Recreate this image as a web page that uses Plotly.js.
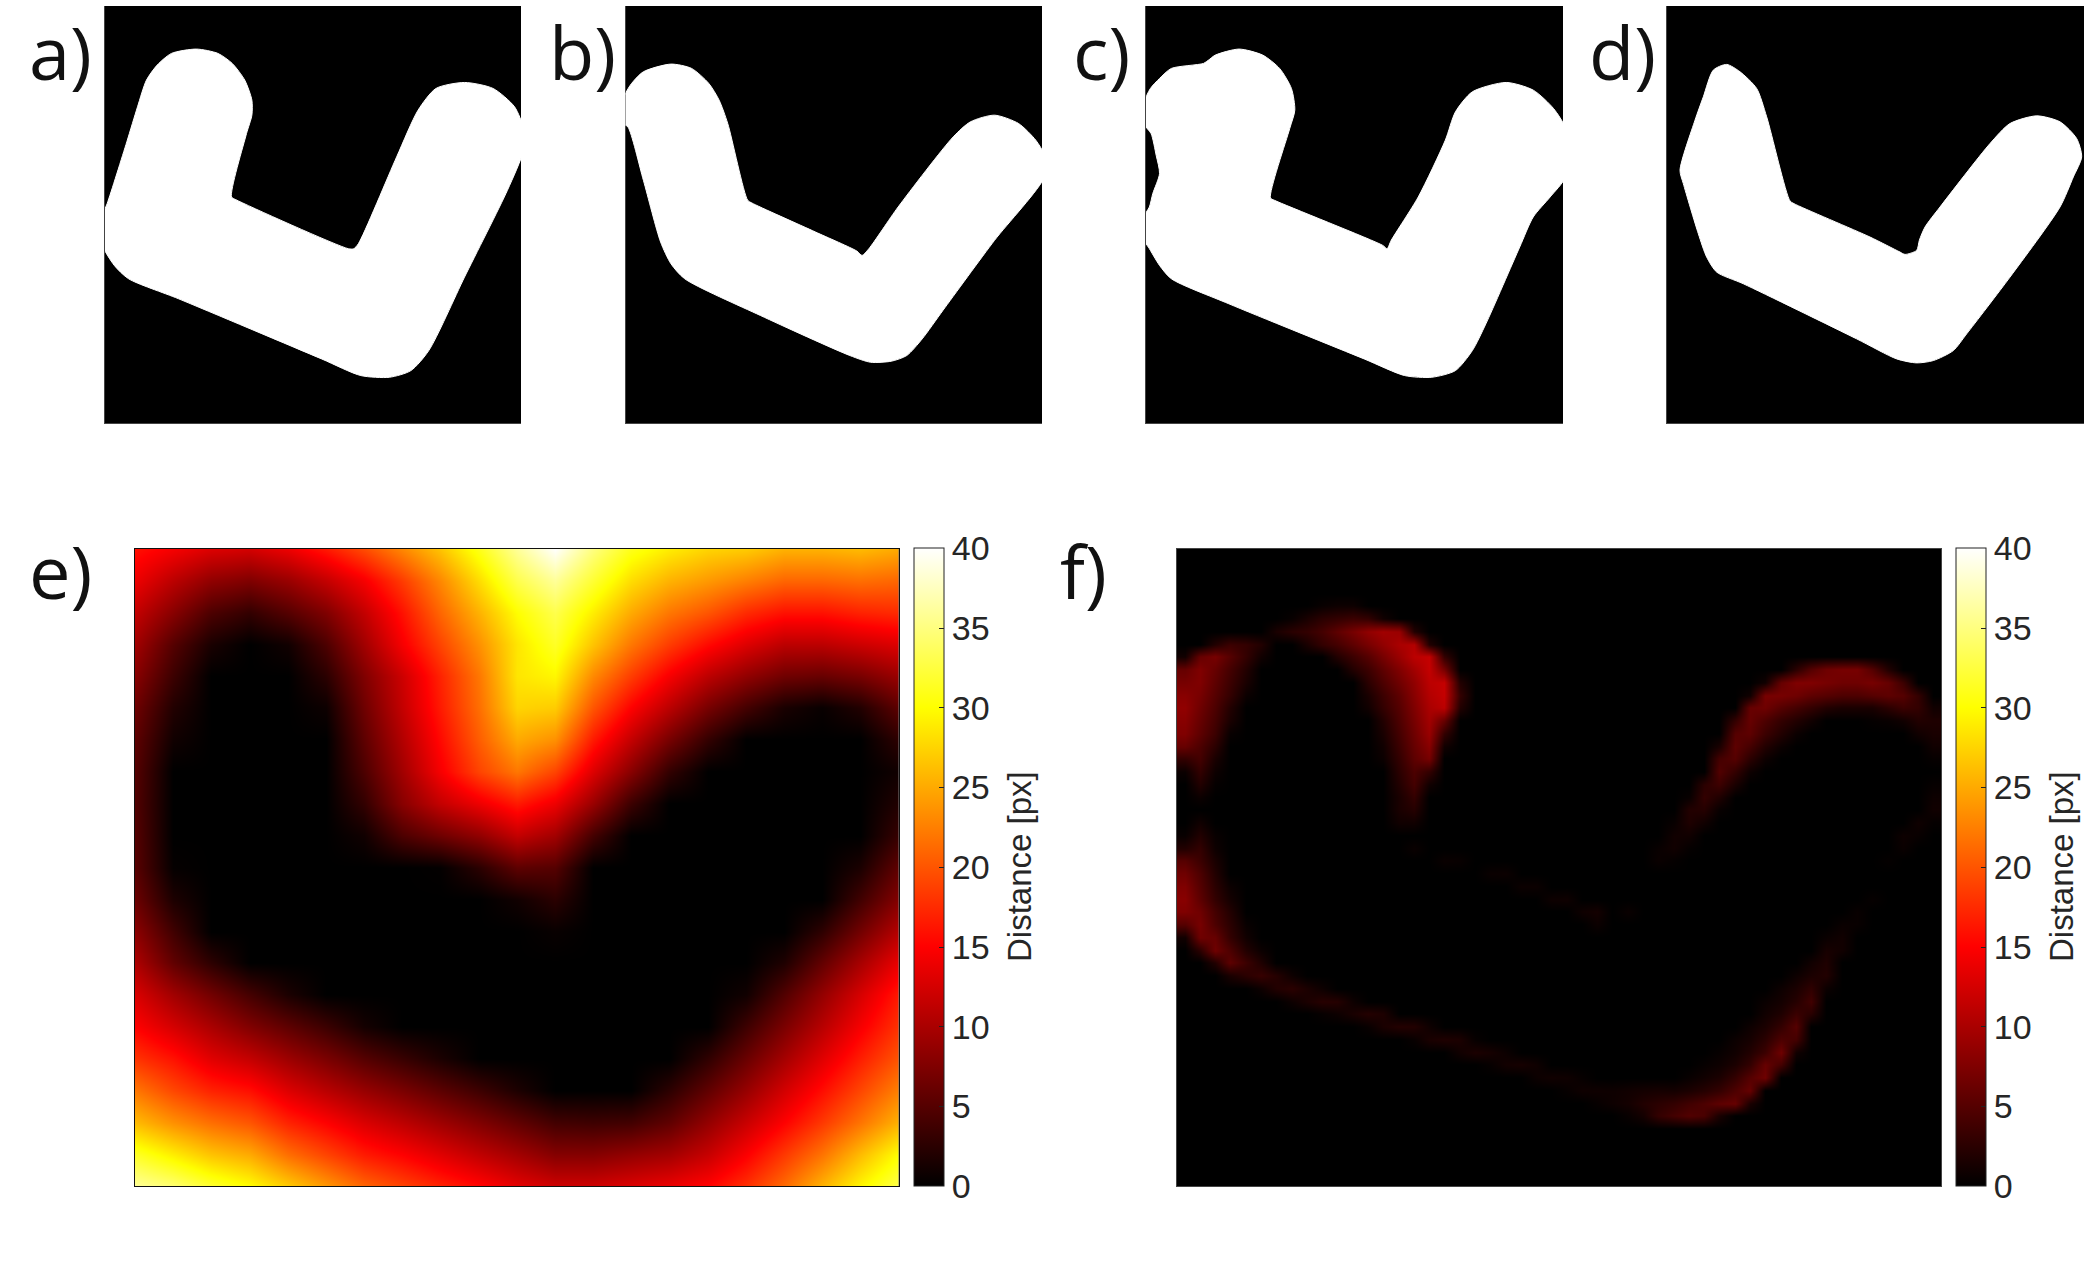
<!DOCTYPE html>
<html><head><meta charset="utf-8">
<script src="https://cdn.plot.ly/plotly-3.0.1.min.js"></script>
<style>html,body{margin:0;padding:0;background:#fff}</style></head>
<body><div id="chart" style="width:2084px;height:1272px"></div>
<script>
// Mask outlines, in each panel's own sample coordinates
const maskAX=[300,355,385,410,440,480,550,610,650,685,705,705,690,648,660,975,990,1003,1110,1170,1220,1300,1380,1440,1465,1465,1420,1300,1200,1150,1090,1010,900,500,360,320,285,285];
const maskAY=[610,425,320,240,195,160,147,160,190,240,300,345,400,590,598,745,745,730,470,330,265,247,265,320,385,450,570,830,1050,1110,1130,1125,1075,895,835,795,730,650];
const maskARange=[294,1458,1267,18];
const maskBX=[240,262,300,380,440,490,520,545,603,615,800,920,935,955,1040,1200,1250,1320,1390,1440,1465,1465,1320,1170,1110,1065,1020,960,900,640,420,380,350,300,255,240];
const maskBY=[300,255,215,192,205,250,300,370,600,608,695,752,765,745,620,410,365,345,370,420,465,530,720,930,1015,1065,1082,1085,1065,945,835,790,725,540,380,370];
const maskBRange=[248,1458,1267,18];
const maskCX=[268,295,330,425,440,460,530,600,650,685,695,680,623,635,955,968,980,1060,1140,1170,1220,1320,1400,1460,1495,1495,1450,1400,1360,1260,1220,1170,1100,1020,900,500,330,295,262,248,248,265,275,295,285,270,248,248];
const maskCY=[265,235,205,190,180,165,147,165,205,265,330,385,593,600,735,745,720,590,420,335,275,247,270,325,385,530,590,650,740,970,1050,1110,1130,1125,1075,910,835,795,740,720,650,620,580,520,465,400,370,310];
const maskCRange=[255,1488,1267,18];
const maskDX=[330,375,400,430,470,510,560,590,660,672,900,990,1005,1040,1048,1065,1110,1260,1320,1400,1470,1520,1535,1510,1470,1320,1190,1150,1090,1040,980,860,520,440,410,385,340];
const maskDY=[510,360,290,210,193,215,265,350,602,610,710,755,762,750,720,680,620,430,370,347,365,415,470,530,620,830,1000,1050,1080,1087,1075,1015,850,815,770,700,550];
const maskDRange=[291,1542,1267,18];

// Panel e: distance [px] read on a 5% grid (rows top to bottom)
const gridE=[0,5,10,15,20,25,30,35,40,45,50,55,60,65,70,75,80,85,90,95,100];
const distE=[
[16,14.5,13,12.5,14,16.5,19.5,23,26.5,31,36,40,35,31,29,27.5,27,25.5,25.5,26,25],
[14,11,8.5,7.5,9,11.5,14.5,18.5,23,28,33,36,32,28,25.5,24,22.5,21,21,21.5,21],
[11.5,8,4.5,3,5,7.5,11.5,16,21,25.5,30,33,29,25,22,20,17.5,16,16,17,17.5],
[9.5,5,1.5,0,1,4.5,9.5,14.5,19,23.5,28.5,31.5,26.5,22,18.5,15.5,13,11,11,12,13],
[8,3.5,0,0,0,2.5,7.5,12,17,22,28.5,29.5,23,18.5,14.5,11,8.5,6.5,6,7,9],
[6.5,2,0,0,0,0.8,6.5,11.5,16.5,21.5,27.5,27,20,15,11,7,4,1.5,0.5,2,5.5],
[5.5,1,0,0,0,0,5.5,10.5,15.5,20.5,25,23.5,16.5,11.5,7,3,0,0,0,0,2.7],
[5,0,0,0,0,0,4.5,9.5,14.5,19,22,19,13,8,3,0,0,0,0,0,1],
[4.8,0,0,0,0,0,3,8,11.5,14,16.5,14,9,3.5,0,0,0,0,0,0,2],
[5,0,0,0,0,0,1,4.5,6.5,8.5,11.5,9.5,4,0,0,0,0,0,0,0,3.3],
[5.2,0.3,0,0,0,0,0,0,0.2,2.5,5.5,5,0,0,0,0,0,0,0,1.6,5.7],
[6.3,1.7,0,0,0,0,0,0,0,0,1,2.5,0,0,0,0,0,0,0,3.8,7.8],
[8.2,3.8,0,0,0,0,0,0,0,0,0,0.5,0,0,0,0,0,0,2.7,6.7,10.7],
[10.2,5.7,2.6,0,0,0,0,0,0,0,0,0,0,0,0,0,0,1.8,5.8,9.8,13.8],
[12.8,9.5,6.7,4,1.6,0,0,0,0,0,0,0,0,0,0,0,1,4.8,8.7,12.6,16.5],
[15,12.5,10,7.5,5.5,3.5,1.2,0,0,0,0,0,0,0,0,0,3.6,7.2,10.8,14.5,18],
[18,16,13.2,11.5,9.2,7.2,5,3.3,1.6,0,0,0,0,0,0,2.8,6.2,9.7,13.2,16.7,20],
[22,19.2,17,15.8,13,10.9,8.9,7.2,5.4,3.6,1.7,0,0,0,2.6,5.7,8.9,12.4,15.7,19.1,22.6],
[26,23.5,21.5,20,17,15,12.8,11.1,9.3,7.5,5.7,3.9,3.6,3.9,5.6,8.7,11.8,15,18.3,21.8,25.5],
[31.5,29,26.5,25,21.5,19,16.5,15,13.2,11.3,9.6,7.8,7.8,8.7,9.6,11.7,14.8,18.3,21.8,26,30],
[36,34.5,32,30,27,24,21,19,17.1,15.4,13.5,12.2,12.2,13,13.9,15.2,17.8,21.3,25.5,29.5,33]];

// Panel f: non-zero difference cells read on a 2% grid: y -> x,z,x,z,...
const diffF={
9:[19,0.5,21,0.8,23,0.8],
11:[15,0.5,17,1.5,19,2.5,21,3,23,3.5,25,3,27,1],
13:[13,1.5,15,2.5,17,3,19,4,21,5.5,23,7,25,8.5,27,9.5,29,9,31,2],
15:[5,2,7,3.5,9,3,11,2,17,1.5,19,3,21,4,23,5.5,25,7,27,8.5,29,10,31,10.5,33,2],
17:[1,1,3,6,5,7,7,5,9,3,11,1,21,2,23,3.5,25,5,27,7,29,9,31,11,33,11.5,35,3],
19:[1,6,3,7.5,5,6,7,4,9,2,23,2,25,3.5,27,5.5,29,7.5,31,9.5,33,11.5,35,7,81,2.5,83,5,85,6.5,87,7,89,7,91,5,93,2],
21:[1,7,3,7.5,5,5.5,7,3.5,9,1.5,25,2.5,27,4.5,29,6.5,31,8.5,33,11,35,11.5,37,2,77,1,79,6,81,7.5,83,7.5,85,7,87,6.5,89,6.5,91,7,93,6,95,3.5],
23:[1,8,3,7,5,5,7,3,9,0.7,25,1.5,27,3.5,29,5.5,31,8,33,10.5,35,11.5,37,3,75,1,77,7,79,7,81,6.5,83,5.5,85,5,87,4.5,89,4.5,91,5,93,5.5,95,5,97,3],
25:[1,8.5,3,6.5,5,4.5,7,2,25,1,27,3,29,5,31,7.5,33,10,35,11,37,2,75,6,77,6.5,79,5,81,4,83,3,85,2,87,1.5,89,1.5,91,1.5,93,2.5,95,3.5,97,3,99,1],
27:[1,8,3,6,5,4,7,1.5,27,2,29,4.5,31,7,33,9.5,35,6,73,3,75,6,77,4.5,79,3,81,2,83,1,91,0.3,93,0.5,95,1,97,2,99,1.8],
29:[1,7.5,3,5.5,5,3.5,7,0.5,27,1.5,29,4,31,6.5,33,9,35,3,73,5,75,5.5,77,3.5,79,2,81,0.7,97,1,99,1.5],
31:[1,6,3,4.5,5,2.5,27,1,29,3.5,31,6,33,8,35,1,71,1.5,73,5.5,75,4,77,2,79,0.7,99,1],
33:[1,3,3,4,5,1.5,27,0.7,29,3,31,5.5,33,7,71,4,73,5,75,2.5,77,0.8,99,0.4],
35:[1,0.7,3,3,5,0.8,29,2.5,31,4.5,33,3,71,4.8,73,3,75,0.8],
37:[3,2,5,0.3,29,2,31,4,33,1,69,2.5,71,3.6,73,1.5,99,0.4],
39:[3,0.7,29,1.5,31,3,67,0.5,69,3,71,1.8,99,0.8],
41:[29,1.5,31,2.2,67,2,69,2.2,71,0.5,99,1],
43:[3,1,29,1,31,1,65,0.5,67,1.8,69,1,97,0.9,99,0.3],
45:[1,0.5,3,2,5,0.5,65,1,67,1,95,0.8,97,0.5],
47:[1,2,3,3,5,0.8,31,0.6,63,0.5,65,1,67,0.3,95,0.6],
49:[1,5,3,3.5,5,1.5,35,0.6,37,0.5,63,0.6,65,0.3,93,0.3],
51:[1,6.5,3,4.5,5,2,41,0.6,43,0.7],
53:[1,7.5,3,5,5,2.5,7,0.7,45,0.7,47,0.7],
55:[1,8,3,5.5,5,3,7,1.2,49,0.8,51,0.9,91,0.4],
57:[1,7.5,3,6.5,5,4,7,2,53,0.9,55,1.2,59,0.6,89,0.5],
59:[1,5,3,7,5,4.5,7,2.5,9,0.5,55,0.7,87,0.6,89,0.5],
61:[1,1,3,6.5,5,6,7,3,9,1,85,0.6,87,1],
63:[3,2.5,5,6.5,7,4.5,9,2,11,0.7,85,1.4,87,1],
65:[5,2,7,5.5,9,3.5,11,1.8,83,1,85,1.8],
67:[7,1.5,9,2.5,11,3.2,13,2.2,15,0.8,81,0.8,83,1.6,85,2],
69:[11,0.8,13,2,15,2.5,17,1.6,19,0.8,79,0.8,81,1.6,83,2.8,85,0.7],
71:[15,0.8,17,1.6,19,2.3,21,2.2,23,0.8,77,0.6,79,1.2,81,2.2,83,3.8],
73:[19,0.4,21,0.8,23,1.5,25,2.1,27,1.7,77,1,79,1.8,81,3.4,83,2.4],
75:[25,0.5,27,1.5,29,2.1,31,2,33,0.9,75,0.8,77,1.6,79,3,81,5],
77:[31,0.5,33,1.5,35,1.8,37,1.6,39,0.4,73,0.7,75,1.3,77,2.5,79,4.5,81,4],
79:[37,1,39,1.6,41,1.3,43,0.7,71,0.4,73,1,75,2,77,3.5,79,6.5,81,1],
81:[41,0.4,43,1.1,45,1.3,47,0.9,69,0.4,71,0.8,73,1.6,75,3,77,6,79,4],
83:[47,0.7,49,1,51,0.9,53,0.4,67,0.5,69,1,71,1.6,73,3,75,5,77,6.5],
85:[51,0.4,53,0.9,55,0.9,57,0.8,59,1,61,1.2,63,1.3,65,1.2,67,1.6,69,2.2,71,3,73,4.5,75,6],
87:[55,0.4,57,0.8,59,1.2,61,2,63,2.5,65,3,67,3.8,69,4.5,71,5.5,73,6,75,1.5],
89:[59,0.5,61,1.2,63,3,65,4,67,4.8,69,4.3,71,1.5]
};
const tickVals=[0,5,10,15,20,25,30,35,40];
const colorbarTitle='Distance [px]';
const panelLabels=['a)','b)','c)','d)','e)','f)'];

const W=2084,H=1272;
const hot=[[0,'#000000'],[0.375,'#ff0000'],[0.75,'#ffff00'],[1,'#ffffff']];
const fx=p=>p/W, fy=p=>1-p/H;
const boxes=[[105,521,6,423],[625.5,1042,6,423],[1146,1563,6,423],[1667,2084,6,423],[135,898.5,548.5,1186],[1177,1941,548.5,1186]];
const layout={width:W,height:H,margin:{l:0,r:0,t:0,b:0},paper_bgcolor:'#fff',plot_bgcolor:'#000',showlegend:false,annotations:[]};
const ranges=[maskARange,maskBRange,maskCRange,maskDRange,[0,100,100,0],[0,100,100,0]];
boxes.forEach((b,i)=>{
  const s=i?String(i+1):'';
  const r=ranges[i];
  const ax={showticklabels:false,ticks:'',showgrid:false,zeroline:false,showline:true,mirror:i>=4,linecolor:i==4?'#111':'#444',linewidth:1,layer:i<4?'below traces':'above traces'};
  layout['xaxis'+s]=Object.assign({domain:[fx(b[0]),fx(b[1])],range:[r[0],r[1]],anchor:'y'+s},ax);
  layout['yaxis'+s]=Object.assign({domain:[fy(b[3]),fy(b[2])],range:[r[2],r[3]],anchor:'x'+s},ax);
});
const labelPos=[[27,51],[547,51],[1071,51],[1587,51],[27,570],[1058,570]];
panelLabels.forEach((t,i)=>layout.annotations.push({text:t,xref:'paper',yref:'paper',x:fx(labelPos[i][0]),y:fy(labelPos[i][1]),xanchor:'left',yanchor:'middle',showarrow:false,font:{family:'Open Sans',size:74,color:'#111'}}));
[1019,2061].forEach(px=>layout.annotations.push({text:colorbarTitle,xref:'paper',yref:'paper',x:fx(px),y:fy(867),xanchor:'center',yanchor:'middle',textangle:-90,showarrow:false,font:{family:'Liberation Sans',size:33,color:'#262626'}}));

const maskTrace=(x,y,i)=>({type:'scatter',mode:'lines',x:x.concat(x[0]),y:y.concat(y[0]),fill:'toself',fillcolor:'#fff',line:{color:'#fff',width:1,shape:'spline',smoothing:0.7},hoverinfo:'skip',xaxis:'x'+(i?i+1:''),yaxis:'y'+(i?i+1:'')});
const cbar=(left)=>({x:fx(left),xanchor:'left',xpad:0,ypad:0,y:fy(867.25),yanchor:'middle',thickness:30,thicknessmode:'pixels',len:637.5/H,lenmode:'fraction',outlinecolor:'#222',outlinewidth:1,tickvals:tickVals,ticktext:tickVals.map(String),ticks:'inside',ticklen:5,tickcolor:'#222',tickfont:{family:'Liberation Sans',size:34,color:'#262626'}});

// build the f grid from the sparse cells
const gridF=[];for(let k=1;k<100;k+=2)gridF.push(k);
const zF=gridF.map(y=>{const row=gridF.map(()=>0);const c=diffF[y]||[];for(let j=0;j<c.length;j+=2)row[(c[j]-1)/2]=c[j+1];return row;});

const data=[maskTrace(maskAX,maskAY,0),maskTrace(maskBX,maskBY,1),maskTrace(maskCX,maskCY,2),maskTrace(maskDX,maskDY,3),
 {type:'heatmap',x:gridE,y:gridE,z:distE,zmin:0,zmax:40,zsmooth:'best',colorscale:hot,xaxis:'x5',yaxis:'y5',colorbar:cbar(914)},
 {type:'heatmap',x:gridF,y:gridF,z:zF,zmin:0,zmax:40,zsmooth:'best',colorscale:hot,xaxis:'x6',yaxis:'y6',colorbar:cbar(1955.5)}];
Plotly.newPlot('chart',data,layout,{displayModeBar:false,staticPlot:true});
</script></body></html>
